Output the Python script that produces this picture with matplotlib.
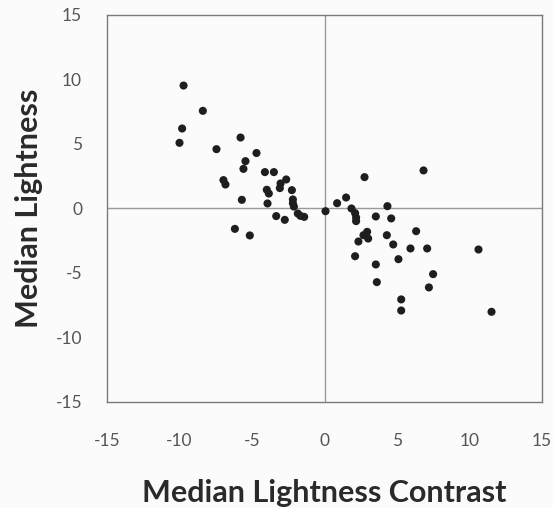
import matplotlib
matplotlib.use("Agg")
import matplotlib.pyplot as plt

# Median lightness contrast (x) vs median lightness (y) per image
contrast = [-9.72, -8.39, -9.82, -10.0, -5.79, -7.45, -4.69, -5.45, -5.59, -6.97,
            -6.83, -4.11, -3.49, -2.64, -3.03, -3.08, -3.98, -3.84, -2.25, -5.70,
            -3.93, -2.18, -2.18, -2.11, -3.33, -2.74, -1.84, -1.66, -1.40, -6.18,
            -5.15, 0.07, 0.87, 1.49, 2.76, 6.83, 1.86, 2.11, 2.18, 2.18,
            3.54, 4.34, 4.60, 2.94, 2.69, 3.01, 2.34, 4.30, 4.74, 6.32,
            5.93, 7.08, 10.62, 2.11, 5.10, 3.54, 7.49, 3.61, 7.20, 5.29,
            5.29, 11.52]
lightness = [9.53, 7.57, 6.20, 5.09, 5.50, 4.60, 4.30, 3.67, 3.07, 2.20,
             1.86, 2.82, 2.82, 2.25, 1.94, 1.58, 1.45, 1.16, 1.42, 0.67,
             0.39, 0.70, 0.41, 0.15, -0.59, -0.88, -0.39, -0.57, -0.65, -1.58,
             -2.09, -0.21, 0.41, 0.85, 2.43, 2.95, 0.00, -0.36, -0.70, -0.98,
             -0.62, 0.18, -0.77, -1.81, -2.07, -2.33, -2.56, -2.07, -2.79, -1.76,
             -3.10, -3.10, -3.18, -3.70, -3.93, -4.34, -5.09, -5.71, -6.12, -7.05,
             -7.91, -8.01]
ticks = [-15, -10, -5, 0, 5, 10, 15]

fig = plt.figure(figsize=(5.53, 5.08), dpi=100)
fig.patch.set_facecolor("#fbfbfb")
ax = fig.add_axes([0.1935, 0.2087, 0.7866, 0.7618])
ax.set_facecolor("#fbfbfb")

ax.axhline(0, color="#9a9a9a", lw=1.0, zorder=1)
ax.axvline(0, color="#9a9a9a", lw=1.0, zorder=1)
ax.scatter(contrast, lightness, s=34, color="#1e1e1e", edgecolors="none", zorder=3)

ax.set_xlim(-15, 15)
ax.set_ylim(-15, 15)
ax.set_xticks(ticks)
ax.set_yticks(ticks)
ax.set_xticklabels([str(t) for t in ticks])
ax.set_yticklabels([str(t) for t in ticks])
for s in ax.spines.values():
    s.set_color("#7a7a7a")
    s.set_linewidth(1.0)
ax.tick_params(axis="x", length=0, pad=22, labelsize=12.5, labelcolor="#555555")
ax.tick_params(axis="y", length=0, pad=18, labelsize=12.5, labelcolor="#555555")
for lab in ax.get_xticklabels() + ax.get_yticklabels():
    lab.set_family(["Lato", "DejaVu Sans"])

ax.set_xlabel("Median Lightness Contrast", fontsize=22, fontweight="bold",
              color="#2a2a2a", family=["Lato", "DejaVu Sans"], labelpad=22)
ax.set_ylabel("Median Lightness", fontsize=22, fontweight="bold",
              color="#2a2a2a", family=["Lato", "DejaVu Sans"], labelpad=9)

fig.savefig("out.png", dpi=100, facecolor=fig.get_facecolor())
